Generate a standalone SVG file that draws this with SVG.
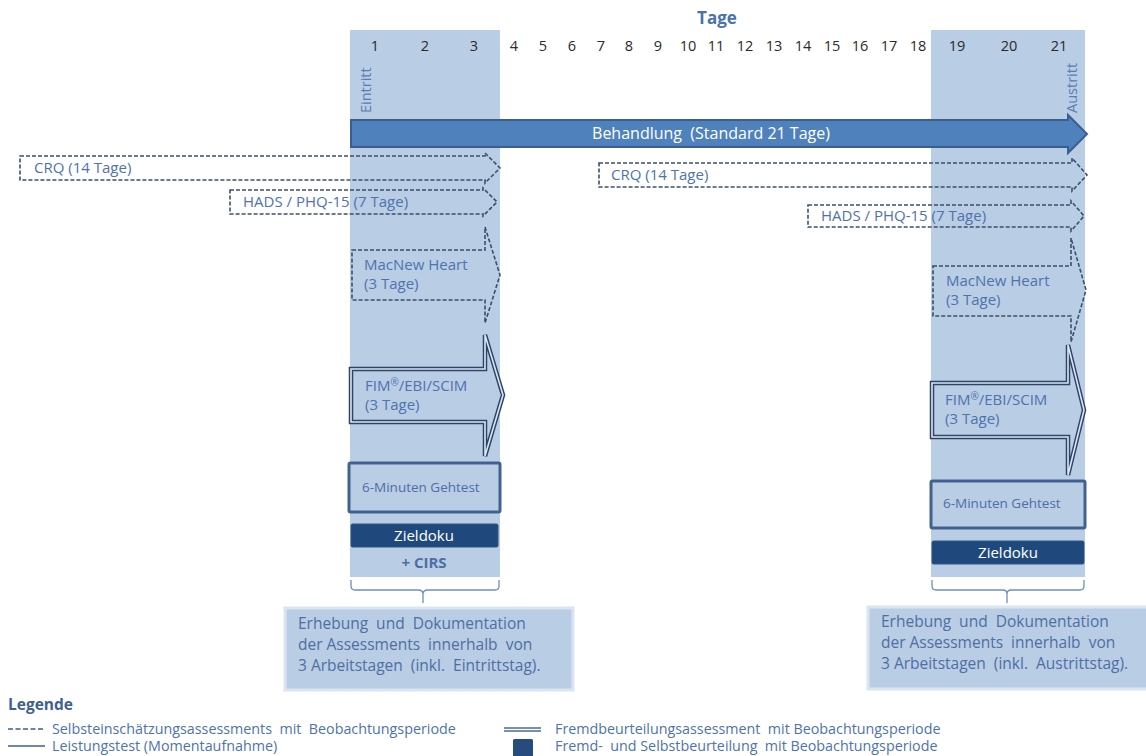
<svg xmlns="http://www.w3.org/2000/svg" width="1146" height="756" viewBox="0 0 1146 756">
<style>
text{font-family:"Open Sans","Noto Sans","Liberation Sans",sans-serif}
.day{font-size:14.5px;fill:#2a2a2a;text-anchor:middle}
.lbl{font-size:15px;fill:#4e73ad}
.dash{fill:none;stroke:#3b4f6e;stroke-width:1.6;stroke-dasharray:4 2}
.band{fill:#b9cde5}
.dbl-o{fill:none;stroke:#2b4468;stroke-width:4.5}
.dbl-i{fill:none;stroke:#dce6f2;stroke-width:1.6}
.test{fill:#b9cde5;stroke:#41628f;stroke-width:3}
.ziel{fill:#1f497d;stroke:#2f5687;stroke-width:1}
.zt{font-size:15px;fill:#ffffff;text-anchor:middle}
.brace{fill:none;stroke:#6f8fbf;stroke-width:1.3}
.call{fill:#b9cde5;stroke:#dbe5f1;stroke-width:3}
.ct{font-size:15.5px;fill:#4e6fa3}
.leg{font-size:14.3px;fill:#4e73ad}
</style>
<rect width="1146" height="756" fill="#ffffff"/>
<g id="bands">
<rect class="band" x="350" y="30" width="150" height="547"/>
<rect class="band" x="931" y="30" width="154" height="547"/>
</g>
<g id="axis">
<text x="717" y="24" font-size="17" font-weight="bold" fill="#4a72ad" text-anchor="middle">Tage</text>
<text class="day" x="375" y="51">1</text>
<text class="day" x="425" y="51">2</text>
<text class="day" x="474" y="51">3</text>
<text class="day" x="514" y="51">4</text>
<text class="day" x="543" y="51">5</text>
<text class="day" x="572" y="51">6</text>
<text class="day" x="601" y="51">7</text>
<text class="day" x="629" y="51">8</text>
<text class="day" x="658" y="51">9</text>
<text class="day" x="688" y="51">10</text>
<text class="day" x="716" y="51">11</text>
<text class="day" x="745" y="51">12</text>
<text class="day" x="774" y="51">13</text>
<text class="day" x="803" y="51">14</text>
<text class="day" x="832" y="51">15</text>
<text class="day" x="860" y="51">16</text>
<text class="day" x="889" y="51">17</text>
<text class="day" x="918" y="51">18</text>
<text class="day" x="957" y="51">19</text>
<text class="day" x="1009" y="51">20</text>
<text class="day" x="1059" y="51">21</text>
<text x="371" y="113" font-size="14.5" fill="#5a7db3" transform="rotate(-90 371 113)">Eintritt</text>
<text x="1077" y="113" font-size="14.5" fill="#5a7db3" transform="rotate(-90 1077 113)">Austritt</text>
</g>
<g id="behandlung">
<path d="M351,120 H1068 V115 L1087,134 L1068,153 V147 H351 Z" fill="#4f81bd" stroke="#3a5f8f" stroke-width="2"/>
<text xml:space="preserve" x="711" y="139" font-size="16" fill="#ffffff" text-anchor="middle">Behandlung  (Standard 21 Tage)</text>
</g>
<g id="crq-left">
<path class="dash" d="M20,156 H485 V153 L500,168 L485,183 V180 H20 Z"/>
<text class="lbl" x="34" y="173">CRQ (14 Tage)</text>
</g>
<g id="hads-left">
<path class="dash" d="M230,190 H483 V188 L497,202 L483,216 V214 H230 Z"/>
<text class="lbl" x="243" y="207">HADS / PHQ-15 (7 Tage)</text>
</g>
<g id="macnew-left">
<path class="dash" d="M352,250 H485 V227 L500,275 L485,323 V300 H352 Z"/>
<text class="lbl" x="364" y="270">MacNew Heart</text>
<text class="lbl" x="364" y="289">(3 Tage)</text>
</g>
<g id="fim-left">
<path class="dbl-o" d="M351,369 H485 V335 L503,395 L485,456 V422 H351 Z"/>
<path class="dbl-i" d="M351,369 H485 V335 L503,395 L485,456 V422 H351 Z"/>
<text class="lbl" x="365" y="391">FIM<tspan font-size="10" dy="-5">®</tspan><tspan dy="5">/EBI/SCIM</tspan></text>
<text class="lbl" x="365" y="410">(3 Tage)</text>
</g>
<g id="gehtest-left">
<rect class="test" x="349" y="463" width="151" height="49" rx="1.5"/>
<text x="362" y="492" font-size="13.5" fill="#4e6fa3">6-Minuten Gehtest</text>
</g>
<g id="zieldoku-left">
<rect class="ziel" x="351" y="524" width="147" height="23" rx="1.5"/>
<text class="zt" x="424" y="540.5">Zieldoku</text>
<text x="424" y="568" font-size="15" font-weight="bold" fill="#4e6fa3" text-anchor="middle">+ CIRS</text>
</g>
<g id="crq-right">
<path class="dash" d="M599,163 H1072 V158 L1087,175 L1072,191 V187 H599 Z"/>
<text class="lbl" x="611" y="180">CRQ (14 Tage)</text>
</g>
<g id="hads-right">
<path class="dash" d="M808,205 H1071 V201 L1084,216 L1071,231 V227 H808 Z"/>
<text class="lbl" x="821" y="221">HADS / PHQ-15 (7 Tage)</text>
</g>
<g id="macnew-right">
<path class="dash" d="M933,266 H1071 V238 L1086,290 L1071,342 V316 H933 Z"/>
<text class="lbl" x="946" y="286">MacNew Heart</text>
<text class="lbl" x="946" y="305">(3 Tage)</text>
</g>
<g id="fim-right">
<path class="dbl-o" d="M932,383 H1068 V345 L1084,410 L1068,475 V437 H932 Z"/>
<path class="dbl-i" d="M932,383 H1068 V345 L1084,410 L1068,475 V437 H932 Z"/>
<text class="lbl" x="945" y="405">FIM<tspan font-size="10" dy="-5">®</tspan><tspan dy="5">/EBI/SCIM</tspan></text>
<text class="lbl" x="945" y="424">(3 Tage)</text>
</g>
<g id="gehtest-right">
<rect class="test" x="931" y="481" width="154" height="47" rx="1.5"/>
<text x="943" y="508" font-size="13.5" fill="#4e6fa3">6-Minuten Gehtest</text>
</g>
<g id="zieldoku-right">
<rect class="ziel" x="932" y="541" width="152" height="23" rx="1.5"/>
<text class="zt" x="1008" y="557.5">Zieldoku</text>
</g>
<g id="connectors">
<path class="brace" d="M351,580 V586 Q351,590 355,590 H418 Q423,590 423,594 V603 M423,594 Q423,590 428,590 H495 Q499,590 499,586 V580"/>
<path class="brace" d="M932,580 V586 Q932,590 936,590 H1003 Q1007,590 1007,594 V603 M1007,594 Q1007,590 1011,590 H1080 Q1084,590 1084,586 V580"/>
</g>
<g id="callout-left">
<rect class="call" x="285" y="608" width="288" height="82"/>
<text class="ct" xml:space="preserve" x="298" y="629">Erhebung  und  Dokumentation</text>
<text class="ct" xml:space="preserve" x="298" y="650">der Assessments  innerhalb  von</text>
<text class="ct" xml:space="preserve" x="298" y="671">3 Arbeitstagen  (inkl.  Eintrittstag).</text>
</g>
<g id="callout-right">
<rect class="call" x="868" y="607" width="280" height="82"/>
<text class="ct" xml:space="preserve" x="881" y="627">Erhebung  und  Dokumentation</text>
<text class="ct" xml:space="preserve" x="881" y="648">der Assessments  innerhalb  von</text>
<text class="ct" xml:space="preserve" x="881" y="669">3 Arbeitstagen  (inkl.  Austrittstag).</text>
</g>
<g id="legend">
<text x="8" y="710" font-size="15.5" font-weight="bold" fill="#3f5f94">Legende</text>
<line x1="8" y1="729" x2="45" y2="729" stroke="#3f5f94" stroke-width="1.5" stroke-dasharray="5 2.5"/>
<text class="leg" xml:space="preserve" x="52" y="734">Selbsteinschätzungsassessments  mit  Beobachtungsperiode</text>
<line x1="8" y1="746" x2="45" y2="746" stroke="#3f5f94" stroke-width="1.5"/>
<text class="leg" x="52" y="751">Leistungstest (Momentaufnahme)</text>
<line x1="504" y1="728" x2="541" y2="728" stroke="#4a6a9a" stroke-width="1.5"/>
<line x1="504" y1="731" x2="541" y2="731" stroke="#4a6a9a" stroke-width="1.5"/>
<text class="leg" xml:space="preserve" x="555" y="734">Fremdbeurteilungsassessment  mit Beobachtungsperiode</text>
<rect x="513" y="739" width="20" height="18" rx="1.5" fill="#264b7f"/>
<text class="leg" xml:space="preserve" x="555" y="751">Fremd-  und Selbstbeurteilung  mit Beobachtungsperiode</text>
</g>
</svg>
